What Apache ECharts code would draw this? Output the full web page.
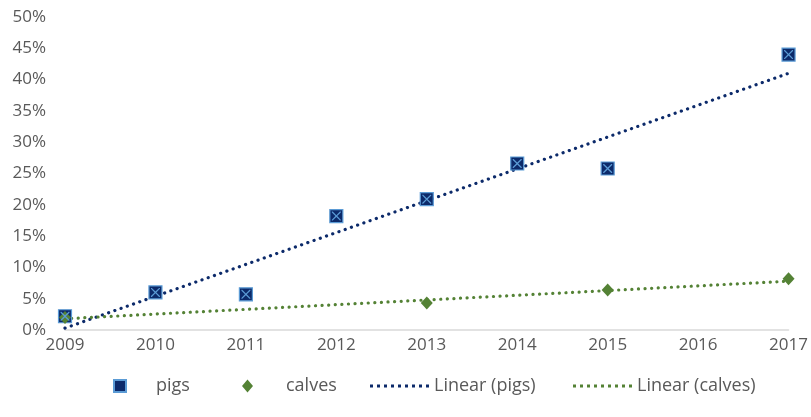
<!DOCTYPE html>
<html>
<head>
<meta charset="utf-8">
<script src="https://cdn.jsdelivr.net/npm/echarts@6/dist/echarts.min.js"></script>
<style>
  html, body { margin: 0; padding: 0; background: #fff; }
  #chart { width: 811px; height: 417px; }
</style>
</head>
<body>
<div id="chart"></div>
<script>
// data
var years = ['2009', '2010', '2011', '2012', '2013', '2014', '2015', '2016', '2017'];
var pigs = [2.2, 6.0, 5.7, 18.2, 20.9, 26.6, 25.8, null, 44.0];
var calves = [2.0, null, null, null, 4.3, null, 6.4, null, 8.2];
// trendline ends (2009, 2017) as drawn
var trendPigs = [0.3, 41.0];
var trendCalves = [1.8, 7.8];

var navy = '#0C2A6A';
var lightBlue = '#5B9BD5';
var green = '#548235';
var textGray = '#595959';

function trendData(ends) {
    return [[years[0], ends[0]], [years[years.length - 1], ends[1]]];
}

var xPath = 'path://M0,0 L2,0 L10,8 L18,0 L20,0 L20,2 L12,10 L20,18 L20,20 L18,20 L10,12 L2,20 L0,20 L0,18 L8,10 L0,2 Z';
var dotsPath = 'path://M0,0h3v3h-3z M7,0h3v3h-3z M14,0h3v3h-3z M21,0h3v3h-3z M28,0h3v3h-3z M35,0h3v3h-3z M42,0h3v3h-3z M49,0h3v3h-3z M56,0h3v3h-3z';

function legendItem(name, left, icon, w, h, pad) {
    return {
        left: left,
        top: 372,
        itemWidth: w,
        itemHeight: h,
        textStyle: { color: textGray, fontSize: 18, padding: [0, 0, 0, pad] },
        data: [{ name: name, icon: icon }]
    };
}

var chart = echarts.init(document.getElementById('chart'));
var options = {
    animation: false,
    textStyle: { fontFamily: 'Open Sans' },
    grid: { left: 65, right: 21, top: 17, bottom: 87 },
    xAxis: {
        type: 'category',
        data: years,
        boundaryGap: false,
        axisLine: { lineStyle: { color: '#D9D9D9', width: 1.5 } },
        axisTick: { show: false },
        axisLabel: { color: textGray, fontSize: 17, margin: 7 }
    },
    yAxis: {
        type: 'value',
        min: 0,
        max: 50,
        interval: 5,
        splitLine: { show: false },
        axisLine: { show: false },
        axisTick: { show: false },
        axisLabel: { color: textGray, fontSize: 17, margin: 19, formatter: '{value}%' }
    },
    legend: [
        legendItem('pigs', 108, 'rect', 12, 12, 25),
        legendItem('calves', 237, 'diamond', 11, 13, 28),
        legendItem('Linear (pigs)', 365, dotsPath, 59, 3, 0),
        legendItem('Linear (calves)', 568, dotsPath, 59, 3, 0)
    ],
    series: [
        {
            name: 'Linear (pigs)',
            type: 'line',
            data: trendData(trendPigs),
            symbol: 'none',
            color: navy,
            itemStyle: { color: navy },
            lineStyle: { color: navy, width: 3.2, type: [0.1, 6.5], cap: 'round' }
        },
        {
            name: 'Linear (calves)',
            type: 'line',
            data: trendData(trendCalves),
            symbol: 'none',
            color: green,
            itemStyle: { color: green },
            lineStyle: { color: green, width: 3.2, type: [0.1, 6.5], cap: 'round' }
        },
        {
            name: 'pigs',
            type: 'scatter',
            data: pigs,
            symbol: 'rect',
            symbolSize: 13,
            color: navy,
            itemStyle: { color: navy, borderColor: lightBlue, borderWidth: 1.2, opacity: 1 },
            z: 3
        },
        {
            name: 'pigsX',
            type: 'scatter',
            data: pigs,
            symbol: xPath,
            symbolSize: 9,
            itemStyle: { color: lightBlue, opacity: 1 },
            z: 4,
            silent: true
        },
        {
            name: 'calves',
            type: 'scatter',
            data: calves,
            symbol: 'diamond',
            symbolSize: [12, 13],
            color: green,
            itemStyle: { color: green, opacity: 1 },
            z: 3
        }
    ]
};
chart.setOption(options);
window.onresize = function () {
    chart.resize();
};
</script>
</body>
</html>
